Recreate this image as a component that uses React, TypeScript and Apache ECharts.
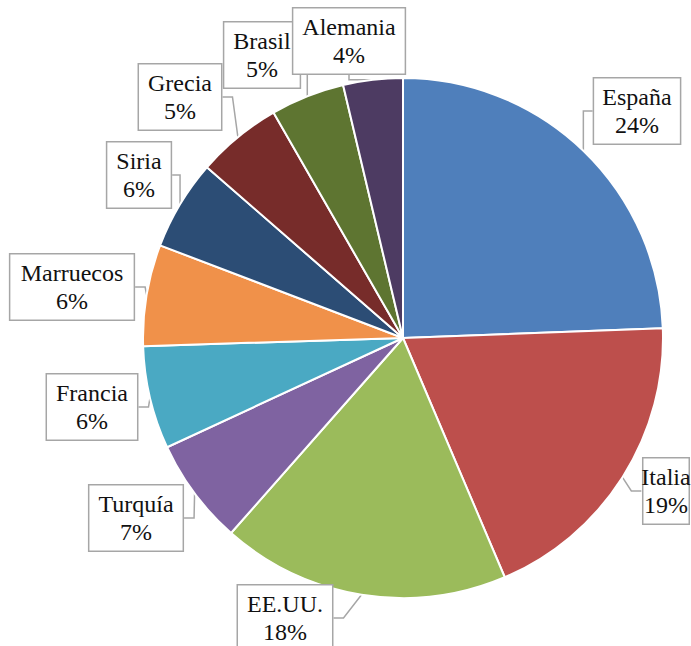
import React, { useEffect, useRef } from "react";
import * as echarts from "echarts";

const categories = ["España", "Italia", "EE.UU.", "Turquía", "Francia", "Marruecos", "Siria", "Grecia", "Brasil", "Alemania"];
const values = [24.4, 19.2, 17.9, 6.6, 6.4, 6.3, 5.6, 5.3, 4.6, 3.7];
const colors = ["#4f7fbb", "#bd4f4c", "#9bbb5b", "#7f63a1", "#4aa9c3", "#f0914a", "#2c4d75", "#772c2a", "#5e7531", "#4d3b62"];
// label box centres (layout only)
const labelPos: [number, number][] = [
  [637, 111], [666, 491], [285, 618], [136, 518], [92, 407],
  [72, 287], [139, 175], [180, 97], [262, 55], [349, 41],
];

const SERIF = "'Liberation Serif', 'Times New Roman', 'DejaVu Serif', serif";

export default function App() {
  const ref = useRef<HTMLDivElement>(null);
  useEffect(() => {
    document.body.style.margin = "0";
    const chart = echarts.init(ref.current!, null, { renderer: "svg" });
    chart.setOption({
      animation: false,
      backgroundColor: "#ffffff",
      textStyle: { fontFamily: SERIF },
      series: [
        {
          type: "pie",
          center: [403, 338],
          radius: [0, 260],
          startAngle: 90,
          clockwise: true,
          data: categories.map((c, i) => ({ name: c, value: values[i], itemStyle: { color: colors[i] } })),
          itemStyle: { borderColor: "#ffffff", borderWidth: 2 },
          label: {
            show: true,
            formatter: (p: any) => `${p.name}\n${Math.round(p.percent)}%`,
            fontFamily: SERIF,
            fontSize: 24,
            lineHeight: 28,
            color: "#111",
            backgroundColor: "#ffffff",
            borderColor: "#a6a6a6",
            borderWidth: 1.5,
            padding: [5, 9, 4, 9],
            align: "center",
            overflow: "none",
            edgeDistance: 0,
            bleedMargin: 0,
          },
          labelLine: {
            show: true,
            length: 10,
            length2: 10,
            lineStyle: { color: "#a6a6a6", width: 1.5 },
          },
          labelLayout: (params: any) => {
            const p = labelPos[params.dataIndex];
            return { x: p[0], y: p[1], align: "center", verticalAlign: "middle" };
          },
        },
      ],
    });
    return () => chart.dispose();
  }, []);
  return <div ref={ref} style={{ width: 691, height: 646 }} />;
}
